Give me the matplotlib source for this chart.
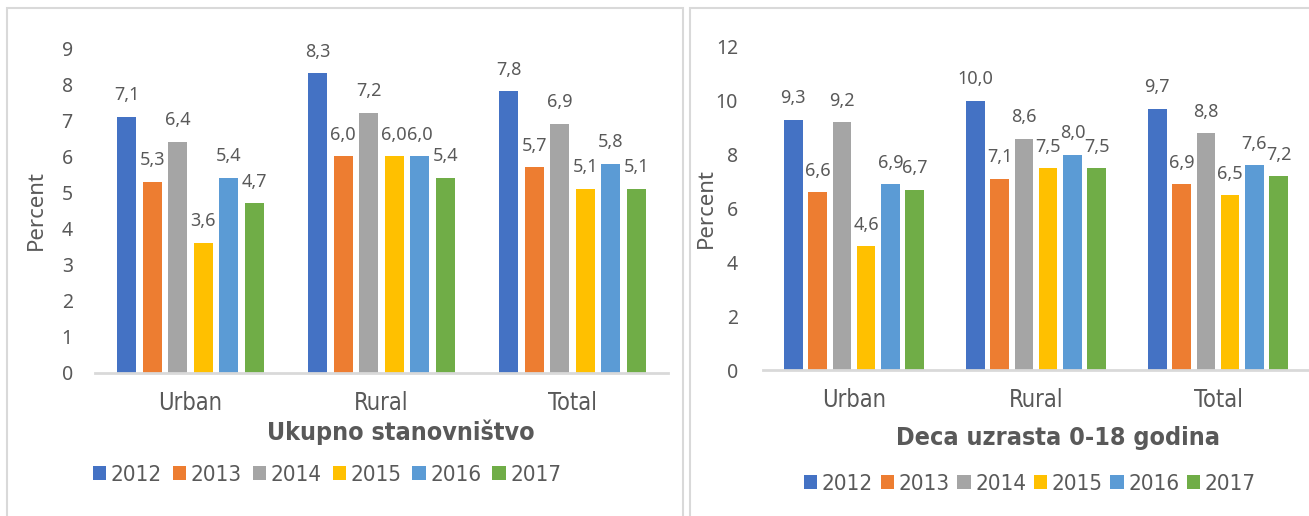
import matplotlib
matplotlib.use("Agg")

import matplotlib.pyplot as plt
import numpy as np
from matplotlib import font_manager
from matplotlib.font_manager import FontProperties
from matplotlib.patches import Rectangle

# Data
categories = ["Urban", "Rural", "Total"]
years = ["2012", "2013", "2014", "2015", "2016", "2017"]

ukupno = {
    "2012": [7.1, 8.3, 7.8],
    "2013": [5.3, 6.0, 5.7],
    "2014": [6.4, 7.2, 6.9],
    "2015": [3.6, 6.0, 5.1],
    "2016": [5.4, 6.0, 5.8],
    "2017": [4.7, 5.4, 5.1],
}
deca = {
    "2012": [9.3, 10.0, 9.7],
    "2013": [6.6, 7.1, 6.9],
    "2014": [9.2, 8.6, 8.8],
    "2015": [4.6, 7.5, 6.5],
    "2016": [6.9, 8.0, 7.6],
    "2017": [6.7, 7.5, 7.2],
}

colors = ["#4472C4", "#ED7D31", "#A5A5A5", "#FFC000", "#5B9BD5", "#70AD47"]
TXT = "#595959"

names = {f.name for f in font_manager.fontManager.ttflist}
REG = "Noto Sans" if "Noto Sans" in names else "DejaVu Sans"


def weight_num(w):
    if isinstance(w, (int, float)):
        return int(w)
    return {"normal": 400, "regular": 400, "book": 400, "medium": 500,
            "semibold": 600, "demibold": 600, "bold": 700, "heavy": 800,
            "black": 900, "light": 300}.get(str(w).lower(), 400)


def narrow_font(bold, size):
    # look for an installed condensed / narrow face, else a narrow-ish sans
    want = 700 if bold else 400
    best, best_score = None, None
    for f in font_manager.fontManager.ttflist:
        nm, fn = f.name.lower(), f.fname.lower()
        is_narrow = ("narrow" in nm or "condensed" in nm or "narrow" in fn
                     or "condensed" in fn or f.stretch in ("condensed", "semi-condensed"))
        if not is_narrow or f.style != "normal" or "italic" in fn or "oblique" in fn:
            continue
        score = abs(weight_num(f.weight) - want)
        if "liberation" in nm:
            score -= 50
        if best_score is None or score < best_score:
            best, best_score = f, score
    if best is not None:
        return FontProperties(fname=best.fname, size=size), True
    fam = "Roboto" if "Roboto" in names else "DejaVu Sans"
    return FontProperties(family=fam, weight="bold" if bold else "normal", size=size), False


cat_fp, found = narrow_font(False, 17)
shrink = 1.0 if found else 0.9
cat_fp.set_size(17 * shrink)
leg_fp, _ = narrow_font(False, 16 * shrink)
title_fp, _ = narrow_font(True, 18 * shrink)

W, H = 1309, 516
fig = plt.figure(figsize=(W / 100, H / 100), dpi=100)


def fx(px):
    return px / W


def fy(py):
    return 1 - py / H


# panel frames
for x0, x1 in [(7, 683), (690, 1320)]:
    fig.patches.append(Rectangle((fx(x0), fy(530)), fx(x1 - x0), (530 - 8) / H,
                                 transform=fig.transFigure, fill=False,
                                 edgecolor="#d9d9d9", lw=1.5))


def panel(rect, data, ymax, ystep, ypad, title, title_xy, leg_xy, colspace):
    ax = fig.add_axes(rect)
    x = np.arange(len(categories))
    pitch, width = 0.1335, 0.102
    handles = []
    for i, yr in enumerate(years):
        vals = data[yr]
        b = ax.bar(x + (i - 2.5) * pitch, vals, width, color=colors[i], label=yr)
        handles.append(b)
        for xi, v in zip(x + (i - 2.5) * pitch, vals):
            ax.annotate(f"{v:.1f}".replace(".", ","), (xi, v), xytext=(0, 15.5),
                        textcoords="offset points", ha="center", va="center",
                        fontsize=13, color=TXT, family=REG, annotation_clip=False)
    ax.set_xlim(-0.5, 2.5)
    ax.set_ylim(0, ymax)
    ax.set_yticks(np.arange(0, ymax + 0.01, ystep))
    ax.set_xticks(x)
    ax.set_xticklabels(categories, fontproperties=cat_fp, color=TXT)
    for lab in ax.get_yticklabels():
        lab.set_family(REG)
    ax.tick_params(axis="y", length=0, pad=ypad, labelsize=14, labelcolor=TXT)
    ax.tick_params(axis="x", length=0, pad=13)
    for s in ["top", "right", "left"]:
        ax.spines[s].set_visible(False)
    ax.spines["bottom"].set_color("#d9d9d9")
    ax.spines["bottom"].set_linewidth(2)
    ax.set_ylabel("Percent", family=REG, fontsize=16, color=TXT)
    ax.yaxis.set_label_coords(-0.084, 0.5)
    fig.text(fx(title_xy[0]), fy(title_xy[1]), title, ha="center", va="center",
             fontproperties=title_fp, color=TXT)
    fig.legend(handles, years, loc="center", bbox_to_anchor=(fx(leg_xy[0]), fy(leg_xy[1])),
               ncol=6, frameon=False, prop=leg_fp,
               labelcolor=TXT, handlelength=0.6, handleheight=0.6,
               handletextpad=0.2, columnspacing=colspace)
    return ax


panel([fx(95), fy(373), fx(573), 325 / H], ukupno, 9, 1, 16,
      "Ukupno stanovništvo", (401, 432), (327, 475), 0.5)
panel([fx(763), fy(370), fx(546), 323 / H], deca, 12, 2, 18,
      "Deca uzrasta 0-18 godina", (1058, 438), (1030, 484), 0.35)

fig.savefig("out.png", dpi=100)
